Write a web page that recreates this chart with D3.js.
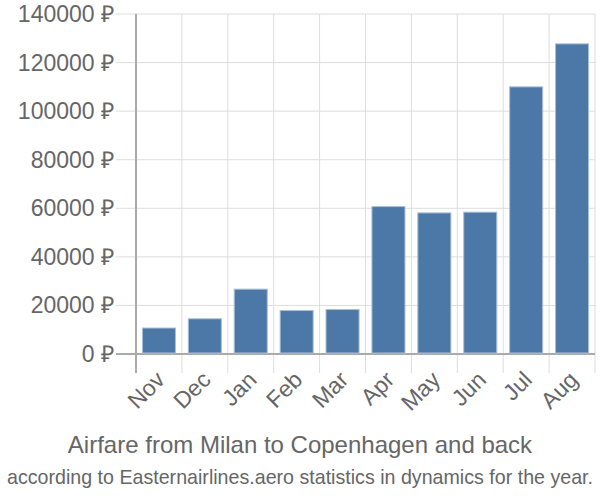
<!DOCTYPE html>
<html>
<head>
<meta charset="utf-8">
<script src="https://d3js.org/d3.v7.min.js"></script>
<style>
  body { margin: 0; background: #fff; }
  svg { font-family: "Liberation Sans", Arial, sans-serif; }
</style>
</head>
<body>
<svg width="600" height="500"></svg>
<script>
let months = ["Nov", "Dec", "Jan", "Feb", "Mar", "Apr", "May", "Jun", "Jul", "Aug"];
let prices = [10700, 14500, 26700, 17900, 18300, 60700, 58100, 58400, 110000, 127700];
let yTicks = [0, 20000, 40000, 60000, 80000, 100000, 120000, 140000];
let title = "Airfare from Milan to Copenhagen and back";
let subtitle = "according to Easternairlines.aero statistics in dynamics for the year.";

let svg = d3.select("svg");
let plotLeft = 136, plotRight = 595, plotTop = 14, plotBottom = 354;

let x = d3.scaleBand().domain(months).range([plotLeft, plotRight]).paddingInner(0.28).paddingOuter(0.14);
let y = d3.scaleLinear().domain([0, 140000]).range([plotBottom, plotTop]);

// horizontal grid
svg.append("g").selectAll("line")
  .data(yTicks)
  .enter().append("line")
    .attr("x1", 116).attr("x2", plotRight)
    .attr("y1", d => y(d)).attr("y2", d => y(d))
    .style("stroke", "#ddd")
    .style("stroke-width", 1);

// vertical grid at band edges
let edges = months.map(m => x(m) - x.step() * x.paddingInner() / 2);
edges.push(plotRight);
svg.append("g").selectAll("line")
  .data(edges)
  .enter().append("line")
    .attr("x1", d => d).attr("x2", d => d)
    .attr("y1", plotTop).attr("y2", plotBottom + 19)
    .style("stroke", (d, i) => i === 0 ? "#aaa" : "#ddd")
    .style("stroke-width", (d, i) => i === 0 ? 2 : 1);

// zero line on top of the vertical grid
svg.append("line")
  .attr("x1", 116).attr("x2", plotRight)
  .attr("y1", y(0)).attr("y2", y(0))
  .style("stroke", "#aaa").style("stroke-width", 2);

// bars
svg.append("g").selectAll("rect")
  .data(prices)
  .enter().append("rect")
    .attr("x", (d, i) => x(months[i]))
    .attr("y", d => y(d))
    .attr("width", x.bandwidth())
    .attr("height", d => y(0) - y(d) - 1)
    .style("fill", "#4c78a8")
    .style("stroke", "#a9bfd8")
    .style("stroke-width", 1);

// y labels
svg.append("g").selectAll("text")
  .data(yTicks)
  .enter().append("text")
    .attr("x", 114)
    .attr("y", d => y(d))
    .attr("dy", "0.35em")
    .style("text-anchor", "end")
    .style("font-size", "23px")
    .style("fill", "#666")
    .text(d => d + " \u20BD");

// x labels
svg.append("g").selectAll("text")
  .data(months)
  .enter().append("text")
    .attr("transform", d => "translate(" + (x(d) + x.bandwidth() / 2 - 5) + "," + (plotBottom + 15) + ") rotate(-45)")
    .attr("dy", "0.75em")
    .style("text-anchor", "end")
    .style("font-size", "23px")
    .style("fill", "#666")
    .text(d => d);

svg.append("text")
  .attr("x", 300).attr("y", 453)
  .style("text-anchor", "middle")
  .style("font-size", "24px")
  .style("fill", "#666")
  .text(title);

svg.append("text")
  .attr("x", 300).attr("y", 484)
  .attr("textLength", 586)
  .attr("lengthAdjust", "spacingAndGlyphs")
  .style("text-anchor", "middle")
  .style("font-size", "21px")
  .style("fill", "#666")
  .text(subtitle);
</script>
</body>
</html>
